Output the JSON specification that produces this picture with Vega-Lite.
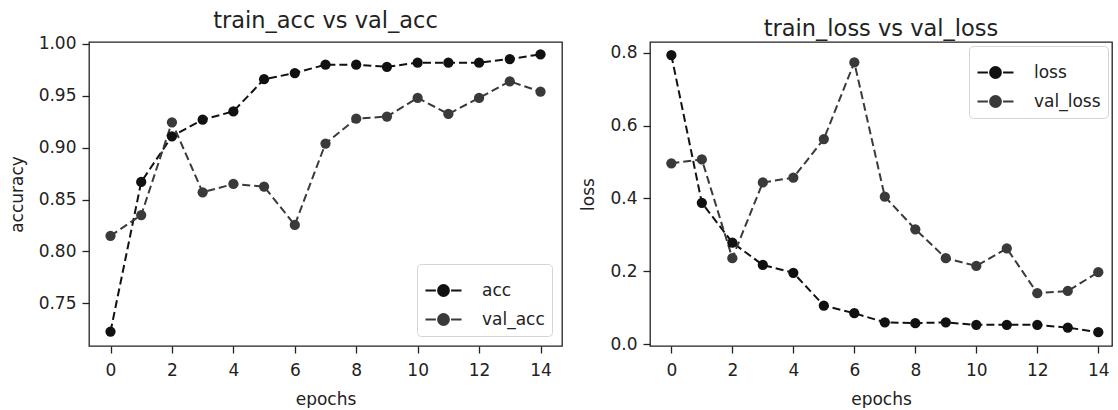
{
  "$schema": "https://vega.github.io/schema/vega-lite/v6.json",
  "background": "white",
  "padding": {"left": 7, "top": 9, "right": 0, "bottom": 0},
  "bounds": "flush",
  "spacing": 88,
  "datasets": {
    "acc": [
      {"epoch": 0, "series": "acc", "value": 0.7227},
      {"epoch": 1, "series": "acc", "value": 0.867},
      {"epoch": 2, "series": "acc", "value": 0.911},
      {"epoch": 3, "series": "acc", "value": 0.927},
      {"epoch": 4, "series": "acc", "value": 0.935},
      {"epoch": 5, "series": "acc", "value": 0.966},
      {"epoch": 6, "series": "acc", "value": 0.972},
      {"epoch": 7, "series": "acc", "value": 0.980},
      {"epoch": 8, "series": "acc", "value": 0.980},
      {"epoch": 9, "series": "acc", "value": 0.978},
      {"epoch": 10, "series": "acc", "value": 0.982},
      {"epoch": 11, "series": "acc", "value": 0.982},
      {"epoch": 12, "series": "acc", "value": 0.982},
      {"epoch": 13, "series": "acc", "value": 0.9855},
      {"epoch": 14, "series": "acc", "value": 0.990},
      {"epoch": 0, "series": "val_acc", "value": 0.815},
      {"epoch": 1, "series": "val_acc", "value": 0.835},
      {"epoch": 2, "series": "val_acc", "value": 0.9245},
      {"epoch": 3, "series": "val_acc", "value": 0.857},
      {"epoch": 4, "series": "val_acc", "value": 0.865},
      {"epoch": 5, "series": "val_acc", "value": 0.8625},
      {"epoch": 6, "series": "val_acc", "value": 0.8255},
      {"epoch": 7, "series": "val_acc", "value": 0.904},
      {"epoch": 8, "series": "val_acc", "value": 0.928},
      {"epoch": 9, "series": "val_acc", "value": 0.930},
      {"epoch": 10, "series": "val_acc", "value": 0.948},
      {"epoch": 11, "series": "val_acc", "value": 0.9325},
      {"epoch": 12, "series": "val_acc", "value": 0.948},
      {"epoch": 13, "series": "val_acc", "value": 0.964},
      {"epoch": 14, "series": "val_acc", "value": 0.954}
    ],
    "loss": [
      {"epoch": 0, "series": "loss", "value": 0.7935},
      {"epoch": 1, "series": "loss", "value": 0.388},
      {"epoch": 2, "series": "loss", "value": 0.279},
      {"epoch": 3, "series": "loss", "value": 0.2175},
      {"epoch": 4, "series": "loss", "value": 0.196},
      {"epoch": 5, "series": "loss", "value": 0.106},
      {"epoch": 6, "series": "loss", "value": 0.085},
      {"epoch": 7, "series": "loss", "value": 0.060},
      {"epoch": 8, "series": "loss", "value": 0.0576},
      {"epoch": 9, "series": "loss", "value": 0.060},
      {"epoch": 10, "series": "loss", "value": 0.053},
      {"epoch": 11, "series": "loss", "value": 0.053},
      {"epoch": 12, "series": "loss", "value": 0.053},
      {"epoch": 13, "series": "loss", "value": 0.0456},
      {"epoch": 14, "series": "loss", "value": 0.033},
      {"epoch": 0, "series": "val_loss", "value": 0.4965},
      {"epoch": 1, "series": "val_loss", "value": 0.507},
      {"epoch": 2, "series": "val_loss", "value": 0.236},
      {"epoch": 3, "series": "val_loss", "value": 0.444},
      {"epoch": 4, "series": "val_loss", "value": 0.457},
      {"epoch": 5, "series": "val_loss", "value": 0.563},
      {"epoch": 6, "series": "val_loss", "value": 0.7735},
      {"epoch": 7, "series": "val_loss", "value": 0.405},
      {"epoch": 8, "series": "val_loss", "value": 0.3154},
      {"epoch": 9, "series": "val_loss", "value": 0.236},
      {"epoch": 10, "series": "val_loss", "value": 0.2148},
      {"epoch": 11, "series": "val_loss", "value": 0.263},
      {"epoch": 12, "series": "val_loss", "value": 0.140},
      {"epoch": 13, "series": "val_loss", "value": 0.146},
      {"epoch": 14, "series": "val_loss", "value": 0.1975}
    ]
  },
  "resolve": {"scale": {"color": "independent", "x": "independent", "y": "independent"}, "legend": {"color": "independent"}},
  "hconcat": [
    {
      "width": 473,
      "height": 304,
      "title": {"text": "train_acc vs val_acc"},
      "data": {"name": "acc"},
      "encoding": {
        "x": {"field": "epoch", "type": "quantitative", "scale": {"domain": [-0.7, 14.7], "nice": false, "zero": false},
              "axis": {"values": [0, 2, 4, 6, 8, 10, 12, 14], "title": "epochs", "labelPadding": 9, "titlePadding": 13}},
        "y": {"field": "value", "type": "quantitative", "scale": {"domain": [0.7088, 1.0019], "nice": false, "zero": false},
              "axis": {"values": [0.75, 0.8, 0.85, 0.9, 0.95, 1.0], "format": ".2f", "title": "accuracy", "titlePadding": 12}},
        "color": {"field": "series", "type": "nominal",
                  "scale": {"domain": ["acc", "val_acc"], "range": ["#111111", "#3a3a3a"]},
                  "legend": {"orient": "bottom-right", "offset": 10}}
      },
      "layer": [
        {"mark": {"type": "line", "strokeDash": [8, 4], "strokeWidth": 2}},
        {"mark": {"type": "point", "filled": true, "size": 105, "opacity": 1}}
      ]
    },
    {
      "width": 462,
      "height": 304,
      "title": {"text": "train_loss vs val_loss"},
      "data": {"name": "loss"},
      "encoding": {
        "x": {"field": "epoch", "type": "quantitative", "scale": {"domain": [-0.7, 14.45], "nice": false, "zero": false},
              "axis": {"values": [0, 2, 4, 6, 8, 10, 12, 14], "title": "epochs", "labelPadding": 9, "titlePadding": 13}},
        "y": {"field": "value", "type": "quantitative", "scale": {"domain": [-0.005, 0.8295], "nice": false, "zero": false},
              "axis": {"values": [0, 0.2, 0.4, 0.6, 0.8], "format": ".1f", "title": "loss", "titlePadding": 12}},
        "color": {"field": "series", "type": "nominal",
                  "scale": {"domain": ["loss", "val_loss"], "range": ["#111111", "#3a3a3a"]},
                  "legend": {"orient": "top-right", "offset": 4}}
      },
      "layer": [
        {"mark": {"type": "line", "strokeDash": [8, 4], "strokeWidth": 2}},
        {"mark": {"type": "point", "filled": true, "size": 105, "opacity": 1}}
      ]
    }
  ],
  "config": {
    "font": "DejaVu Sans",
    "view": {"stroke": "#222222", "strokeWidth": 1.3},
    "title": {"fontSize": 22.5, "fontWeight": "normal", "color": "#222222", "anchor": "middle", "offset": 2, "baseline": "alphabetic"},
    "axis": {
      "grid": false, "domain": false,
      "tickColor": "#222222", "tickSize": 7, "tickWidth": 1.3,
      "labelFontSize": 17, "labelColor": "#222222", "labelPadding": 6,
      "titleFontSize": 17, "titleFontWeight": "normal", "titleColor": "#222222", "titlePadding": 12
    },
    "legend": {
      "title": null,
      "strokeColor": "#d4d4d4", "fillColor": "white", "cornerRadius": 4, "padding": 7,
      "labelFontSize": 17, "labelColor": "#222222", "labelOffset": 19, "rowPadding": 0,
      "symbolType": "M-1,0L-0.42,0M0.42,0L1,0M0.3,0A0.3,0.3,0,1,1,-0.3,0A0.3,0.3,0,1,1,0.3,0",
      "symbolSize": 1300, "symbolStrokeWidth": 2, "symbolOpacity": 1
    }
  }
}
